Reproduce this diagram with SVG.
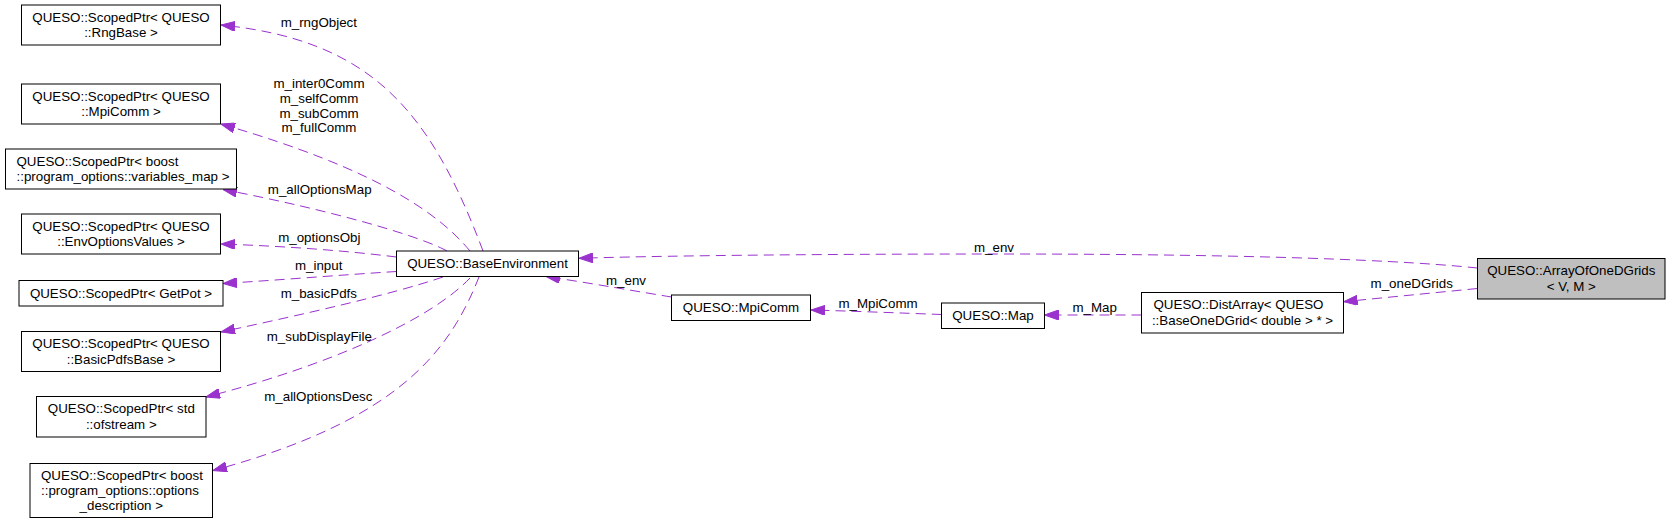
<svg xmlns="http://www.w3.org/2000/svg" width="1672" height="524" viewBox="0 0 1672 524">
<style>
  text { font-family: "Liberation Sans", Arial, Helvetica, sans-serif; font-size: 13.33px; fill: #000; }
  .c { text-anchor: middle; }
  .s { text-anchor: start; }
  .box { fill: #ffffff; stroke: #000000; stroke-width: 1; }
  .root { fill: #bfbfbf; stroke: #000000; stroke-width: 1; }
  .edge { fill: none; stroke: #9a32cd; stroke-width: 1; stroke-dasharray: 10,6; marker-end: url(#arr); }
</style>
<defs>
  <marker id="arr" markerUnits="userSpaceOnUse" markerWidth="14" markerHeight="10" viewBox="0 0 14 10" refX="14" refY="5" orient="auto">
    <path d="M0,0 L14,5 L0,10 z" fill="#9a32cd" stroke="#9a32cd" stroke-width="1"/>
  </marker>
</defs>
<rect x="0" y="0" width="1672" height="524" fill="#ffffff"/>

<g id="connectors">
  <path class="edge" d="M483,251 C430,110 370.7,40 221,25"/>
  <path class="edge" d="M470,251 C440,215 380,170 221,124"/>
  <path class="edge" d="M447,251 C420,236 330,210 223,189.5"/>
  <path class="edge" d="M396.5,257 C340,250 280,246 221,244"/>
  <path class="edge" d="M396.5,271.5 C340,275 280,280 223,283.5"/>
  <path class="edge" d="M443,277 C390,295 300,315 221,332"/>
  <path class="edge" d="M470,278 C430,320 330,365 206,397"/>
  <path class="edge" d="M479,277 C450,350 400,420 213,470.5"/>
  <path class="edge" d="M1477.5,268 C1380,258 1200,254 1000,254 C800,254 650,256 579,258.3"/>
  <path class="edge" d="M671.5,297 C640,292 590,283 546,276.5"/>
  <path class="edge" d="M941.5,314.5 C900,313 850,311 811,310"/>
  <path class="edge" d="M1141.5,315 L1044.5,315"/>
  <path class="edge" d="M1477.5,288.5 L1343.5,301.7"/>

  <text class="c" x="318.8" y="27">m_rngObject</text>
  <text class="c" x="319" y="88">m_inter0Comm</text>
  <text class="c" x="319" y="103">m_selfComm</text>
  <text class="c" x="319" y="117.5">m_subComm</text>
  <text class="c" x="319" y="132">m_fullComm</text>
  <text class="c" x="319.7" y="194">m_allOptionsMap</text>
  <text class="c" x="319.3" y="241.5">m_optionsObj</text>
  <text class="c" x="318.7" y="270">m_input</text>
  <text class="c" x="318.8" y="297.5">m_basicPdfs</text>
  <text class="c" x="319.3" y="341">m_subDisplayFile</text>
  <text class="c" x="318.3" y="400.5">m_allOptionsDesc</text>
  <text class="c" x="626" y="285">m_env</text>
  <text class="c" x="994" y="251.5">m_env</text>
  <text class="c" x="878" y="307.5">m_MpiComm</text>
  <text class="c" x="1094.7" y="312">m_Map</text>
  <text class="c" x="1411.7" y="287.5">m_oneDGrids</text>
</g>

<g id="node-rngbase">
  <rect class="box" x="21.5" y="5" width="199" height="40"/>
  <text class="c" x="121" y="21.5">QUESO::ScopedPtr&lt; QUESO</text>
  <text class="c" x="121" y="37">::RngBase &gt;</text>
</g>
<g id="node-mpicomm-ptr">
  <rect class="box" x="21.5" y="84" width="199" height="40"/>
  <text class="c" x="121" y="100.5">QUESO::ScopedPtr&lt; QUESO</text>
  <text class="c" x="121" y="116">::MpiComm &gt;</text>
</g>
<g id="node-variables-map">
  <rect class="box" x="5.5" y="149" width="231" height="40"/>
  <text class="s" x="16.5" y="165.5">QUESO::ScopedPtr&lt; boost</text>
  <text class="s" x="16.5" y="181">::program_options::variables_map &gt;</text>
</g>
<g id="node-envoptions">
  <rect class="box" x="21.5" y="214" width="199" height="40"/>
  <text class="c" x="121" y="230.5">QUESO::ScopedPtr&lt; QUESO</text>
  <text class="c" x="121" y="246">::EnvOptionsValues &gt;</text>
</g>
<g id="node-getpot">
  <rect class="box" x="19" y="280.5" width="204" height="25.5"/>
  <text class="c" x="121" y="297.5">QUESO::ScopedPtr&lt; GetPot &gt;</text>
</g>
<g id="node-basicpdfs">
  <rect class="box" x="21.5" y="331.5" width="199" height="40"/>
  <text class="c" x="121" y="348">QUESO::ScopedPtr&lt; QUESO</text>
  <text class="c" x="121" y="363.6">::BasicPdfsBase &gt;</text>
</g>
<g id="node-ofstream">
  <rect class="box" x="36.5" y="396.5" width="169.5" height="40.5"/>
  <text class="c" x="121.3" y="413.3">QUESO::ScopedPtr&lt; std</text>
  <text class="c" x="121.3" y="428.8">::ofstream &gt;</text>
</g>
<g id="node-options-desc">
  <rect class="box" x="30" y="463.5" width="182.5" height="54"/>
  <text class="s" x="41" y="480.4">QUESO::ScopedPtr&lt; boost</text>
  <text class="s" x="41" y="495.4">::program_options::options</text>
  <text class="c" x="121.3" y="510.4">_description &gt;</text>
</g>
<g id="node-baseenv">
  <rect class="box" x="396.5" y="251" width="182" height="25.5"/>
  <text class="c" x="487.5" y="268">QUESO::BaseEnvironment</text>
</g>
<g id="node-mpicomm">
  <rect class="box" x="671.5" y="295" width="139" height="25.5"/>
  <text class="c" x="741" y="312">QUESO::MpiComm</text>
</g>
<g id="node-map">
  <rect class="box" x="941.5" y="303" width="103" height="25.5"/>
  <text class="c" x="993" y="320">QUESO::Map</text>
</g>
<g id="node-distarray">
  <rect class="box" x="1141.5" y="292.5" width="202" height="40.5"/>
  <text class="s" x="1153.5" y="309.3">QUESO::DistArray&lt; QUESO</text>
  <text class="c" x="1242.5" y="324.8">::BaseOneDGrid&lt; double &gt; * &gt;</text>
</g>
<g id="node-arrayofonedgrids">
  <rect class="root" x="1477.5" y="258.5" width="187.5" height="40.5"/>
  <text class="c" x="1571.3" y="275.2">QUESO::ArrayOfOneDGrids</text>
  <text class="c" x="1571.3" y="290.7">&lt; V, M &gt;</text>
</g>
</svg>
